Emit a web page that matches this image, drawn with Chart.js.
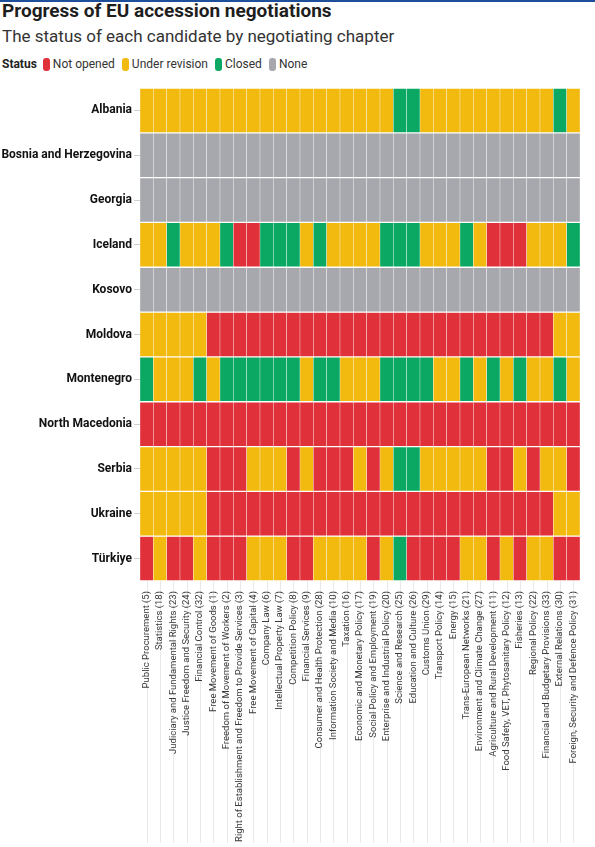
<!DOCTYPE html>
<html>
<head>
<meta charset="utf-8">
<script src="https://cdn.jsdelivr.net/npm/chart.js@4.4.1/dist/chart.umd.min.js"></script>
<style>
    body { margin: 0; background: #fff; font-family: Roboto, sans-serif; }
    #wrap { position: relative; width: 595px; height: 847px; overflow: hidden; }
    #topline { position: absolute; top: 0; left: 0; width: 595px; height: 2px; background: #1d4f9a; z-index: 2; }
    .title { position: absolute; left: 2px; top: 0px; font-size: 19px; font-weight: 700; color: #1e1e1e; line-height: 22px; white-space: nowrap; }
    .subtitle { position: absolute; left: 2px; top: 25px; font-size: 17px; color: #333; line-height: 22px; white-space: nowrap; }
    .legend { position: absolute; left: 2px; top: 56px; display: flex; align-items: center; font-size: 12px; color: #333; line-height: 16px; }
    .legend b { color: #222; margin-right: 6px; }
    .legend .item { display: flex; align-items: center; margin-right: 7px; }
    .legend .sw { width: 7px; height: 13px; border-radius: 3px; margin-right: 3px; }
    #chartBox { position: absolute; top: 0; left: 0; width: 595px; height: 847px; }
</style>
</head>
<body>
<div id="wrap">
    <div id="topline"></div>
    <div class="title">Progress of EU accession negotiations</div>
    <div class="subtitle">The status of each candidate by negotiating chapter</div>
    <div class="legend" id="legend"><b>Status</b></div>
    <div id="chartBox"><canvas id="heatmap"></canvas></div>
</div>
<script>
// Candidates, top to bottom
const countries = ['Albania', 'Bosnia and Herzegovina', 'Georgia', 'Iceland', 'Kosovo', 'Moldova',
    'Montenegro', 'North Macedonia', 'Serbia', 'Ukraine', 'Türkiye'];

// Negotiating chapters, left to right
const chapters = ['Public Procurement (5)', 'Statistics (18)', 'Judiciary and Fundamental Rights (23)',
    'Justice Freedom and Security (24)', 'Financial Control (32)', 'Free Movement of Goods (1)',
    'Freedom of Movement of Workers (2)', 'Right of Establishment and Freedom to Provide Services (3)',
    'Free Movement of Capital (4)', 'Company Law (6)', 'Intellectual Property Law (7)', 'Competition Policy (8)',
    'Financial Services (9)', 'Consumer and Health Protection (28)', 'Information Society and Media (10)',
    'Taxation (16)', 'Economic and Monetary Policy (17)', 'Social Policy and Employment (19)',
    'Enterprise and Industrial Policy (20)', 'Science and Research (25)', 'Education and Culture (26)',
    'Customs Union (29)', 'Transport Policy (14)', 'Energy (15)', 'Trans-European Networks (21)',
    'Environment and Climate Change (27)', 'Agriculture and Rural Development (11)',
    'Food Safety, VET, Phytosanitary Policy (12)', 'Fisheries (13)', 'Regional Policy (22)',
    'Financial and Budgetary Provisions (33)', 'External Relations (30)', 'Foreign, Security and Defence Policy (31)'];

// Status codes: N = not opened, U = under revision, C = closed, X = none
const statusCodes = ['N', 'U', 'C', 'X'];
const statusNames = ['Not opened', 'Under revision', 'Closed', 'None'];
const statusColors = ['#e0303a', '#f2b90f', '#0aa862', '#a6a8ad'];

// One string per country, one letter per chapter
const statusRows = [
    'UUUUUUUUUUUUUUUUUUUCCUUUUUUUUUUCU',
    'XXXXXXXXXXXXXXXXXXXXXXXXXXXXXXXXX',
    'XXXXXXXXXXXXXXXXXXXXXXXXXXXXXXXXX',
    'UUCUUUCNNCCCUCUUUUCCCUUUCUNNNUUUC',
    'XXXXXXXXXXXXXXXXXXXXXXXXXXXXXXXXX',
    'UUUUUNNNNNNNNNNNNNNNNNNNNNNNNNNUU',
    'CUUUCUCCCCCCUCCUUUCCCCUUCUCUCUUCU',
    'NNNNNNNNNNNNNNNNNNNNNNNNNNNNNNNNN',
    'UUUUUNNNUUUNUNNNUNUCCUUUUUNNUNUUN',
    'UUUUUNNNNNNNNNNNNNNNNNNNNNNNNNNUU',
    'NUNNUNNNUUUNNUUUUNUCNNNNUUNUNUUNN'
];

// Legend
const legendEl = document.getElementById('legend');
statusNames.forEach((name, i) => {
    const item = document.createElement('span');
    item.className = 'item';
    item.innerHTML = '<span class="sw" style="background:' + statusColors[i] + '"></span>' + name;
    legendEl.appendChild(item);
});

// Thin guide lines under each chapter label
const tickLines = {
    id: 'tickLines',
    beforeDraw(chart) {
        const { ctx, chartArea, scales: { x } } = chart;
        ctx.save();
        ctx.strokeStyle = '#e8e8e8';
        ctx.lineWidth = 1;
        x.ticks.forEach((t, i) => {
            const px = Math.round(x.getPixelForTick(i)) + 0.5;
            ctx.beginPath();
            ctx.moveTo(px, chartArea.bottom);
            ctx.lineTo(px, chart.height - 4);
            ctx.stroke();
        });
        ctx.restore();
    }
};

const datasets = countries.map((country, r) => ({
    label: country,
    data: chapters.map(() => [r, r + 1]),
    backgroundColor: statusRows[r].split('').map(s => statusColors[statusCodes.indexOf(s)]),
    borderColor: 'rgba(255, 255, 255, 0.75)',
    borderWidth: { left: 0.5, right: 0.5, top: 1, bottom: 1 },
    borderSkipped: false,
    grouped: false,
    barPercentage: 1,
    categoryPercentage: 1
}));

new Chart(document.getElementById('heatmap'), {
    type: 'bar',
    data: { labels: chapters, datasets: datasets },
    options: {
        responsive: true,
        maintainAspectRatio: false,
        animation: false,
        layout: { padding: { top: 88, right: 15, bottom: 0, left: 0 } },
        plugins: {
            legend: { display: false },
            tooltip: { enabled: false }
        },
        scales: {
            x: {
                type: 'category',
                afterFit: (scale) => { scale.height = 266; },
                grid: { display: false, offset: false },
                border: { display: false },
                ticks: {
                    autoSkip: false,
                    maxRotation: 90,
                    minRotation: 90,
                    padding: 2,
                    color: '#3a3a3a',
                    font: { family: 'Roboto', size: 9.5 }
                }
            },
            y: {
                type: 'linear',
                min: 0,
                max: countries.length,
                reverse: true,
                afterFit: (scale) => { scale.width = 140; },
                afterBuildTicks: (scale) => {
                    scale.ticks = countries.map((c, i) => ({ value: i + 0.5 }));
                },
                grid: { drawOnChartArea: false, tickLength: 6, color: '#cfcfcf' },
                border: { display: false },
                ticks: {
                    padding: 2,
                    color: '#111',
                    font: { family: 'Roboto', size: 12, weight: 'bold' },
                    callback: (value, index) => countries[index]
                }
            }
        }
    },
    plugins: [tickLines]
});
</script>
</body>
</html>
